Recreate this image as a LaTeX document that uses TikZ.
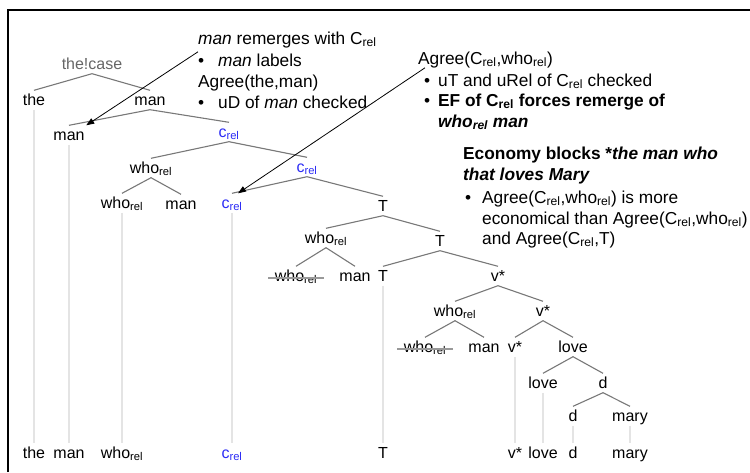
\documentclass[tikz,border=0pt]{standalone}
\usepackage{fontspec}
\setmainfont{Liberation Sans}
\usetikzlibrary{arrows.meta}
\definecolor{relblue}{RGB}{45,45,245}
\definecolor{branchgray}{RGB}{120,120,120}
\definecolor{copygray}{RGB}{228,228,228}
\newcommand{\relsub}{\textsubscript{rel}}
\newcommand{\treesize}{\fontsize{16}{19}\selectfont}
\newcommand{\notesize}{\fontsize{17.3}{20}\selectfont}

\begin{document}
\begin{tikzpicture}[x=1pt,y=-1pt,
        word/.style={inner sep=1.5pt, text height=13pt, text depth=3pt, font=\treesize},
        relword/.style={word, text=relblue},
        caseword/.style={word, text=black!60},
        note/.style={anchor=base west, inner sep=0pt, font=\notesize},
        branch/.style={draw=branchgray, line width=1.1pt},
        copyline/.style={draw=copygray, line width=2pt},
        strikeline/.style={draw=gray!80, line width=1.1pt},
        pointer/.style={->, >={Triangle[length=8pt,width=6pt]}, line width=0.8pt}]
        \useasboundingbox (0,0) rectangle (750,472);
        \draw[line width=1.2pt] (8,472) -- (8,10) -- (750,10);

        % tree
        \node[caseword] (thecase) at (92,64) {the!case};
        \node[word] (the) at (34,100) {the};
        \node[word] (man1) at (150,100) {man};
        \node[word] (man2) at (69,135) {man};
        \node[relword] (crel1) at (229,132) {c\relsub};
        \node[word] (who1) at (151,168) {who\relsub};
        \node[relword] (crel2) at (307,167) {c\relsub};
        \node[word] (who2) at (122,203) {who\relsub};
        \node[word] (man3) at (181,204) {man};
        \node[relword] (crel3) at (232,203) {c\relsub};
        \node[word] (T1) at (383,206) {T};
        \node[word] (who3) at (326,238) {who\relsub};
        \node[word] (T2) at (440,241) {T};
        \node[word] (who4) at (296,276) {who\relsub};
        \node[word] (man4) at (355,276) {man};
        \node[word] (T3) at (383,276) {T};
        \node[word] (v1) at (498,276) {v*};
        \node[word] (who5) at (455,311) {who\relsub};
        \node[word] (v2) at (543,311) {v*};
        \node[word] (who6) at (425,347) {who\relsub};
        \node[word] (man5) at (484,347) {man};
        \node[word] (v3) at (515,347) {v*};
        \node[word] (love1) at (573,347) {love};
        \node[word] (love2) at (543,383) {love};
        \node[word] (d1) at (603,383) {d};
        \node[word] (d2) at (573,416) {d};
        \node[word] (mary) at (630,416) {mary};

        \node[word] (bthe) at (34,453) {the};
        \node[word] (bman) at (69,453) {man};
        \node[word] (bwho) at (122,453) {who\relsub};
        \node[relword] (bcrel) at (232,453) {c\relsub};
        \node[word] (bT) at (383,453) {T};
        \node[word] (bv) at (515,453) {v*};
        \node[word] (blove) at (543,453) {love};
        \node[word] (bd) at (573,453) {d};
        \node[word] (bmary) at (630,453) {mary};

        \draw[branch] (the.north) -- (thecase.south) -- (man1.north);
        \draw[branch] (man2.north) -- (man1.south) -- (crel1.north);
        \draw[branch] (who1.north) -- (crel1.south) -- (crel2.north);
        \draw[branch] (who2.north) -- (who1.south) -- (man3.north);
        \draw[branch] (crel3.north) -- (crel2.south) -- (T1.north);
        \draw[branch] (who3.north) -- (T1.south) -- (T2.north);
        \draw[branch] (who4.north) -- (who3.south) -- (man4.north);
        \draw[branch] (T3.north) -- (T2.south) -- (v1.north);
        \draw[branch] (who5.north) -- (v1.south) -- (v2.north);
        \draw[branch] (who6.north) -- (who5.south) -- (man5.north);
        \draw[branch] (v3.north) -- (v2.south) -- (love1.north);
        \draw[branch] (love2.north) -- (love1.south) -- (d1.north);
        \draw[branch] (d2.north) -- (d1.south) -- (mary.north);

        \draw[copyline] (the) -- (bthe);
        \draw[copyline] (man2) -- (bman);
        \draw[copyline] (who2) -- (bwho);
        \draw[copyline] (crel3) -- (bcrel);
        \draw[copyline] (T3) -- (bT);
        \draw[copyline] (v3) -- (bv);
        \draw[copyline] (love2) -- (blove);
        \draw[copyline] (d2) -- (bd);
        \draw[copyline] (mary) -- (bmary);

        \draw[strikeline] ([xshift=-5pt,yshift=-2pt]who4.west) -- ([xshift=5pt,yshift=-2pt]who4.east);
        \draw[strikeline] ([xshift=-5pt,yshift=-2pt]who6.west) -- ([xshift=5pt,yshift=-2pt]who6.east);

        % notes
        \node[note] (n1) at (198,44) {\textit{man} remerges with C\relsub};
        \node[note] (nb1) at (198,66) {\textbullet};
        \node[note] (n2) at (218,66) {\textit{man} labels};
        \node[note] (n3) at (198,87) {Agree(the,man)};
        \node[note] (nb2) at (198,108) {\textbullet};
        \node[note] (n4) at (218,108) {uD of \textit{man} checked};

        \node[note] (p1) at (418,64) {Agree(C\relsub,who\relsub)};
        \node[note] (pb1) at (424,86) {\textbullet};
        \node[note] (p2) at (438,86) {uT and uRel of C\relsub\ checked};
        \node[note] (pb2) at (424,106) {\textbullet};
        \node[note] (p3) at (438,106) {\textbf{EF of C\relsub\ forces remerge of}};
        \node[note] (p4) at (438,127) {\textbf{\textit{who\relsub\ man}}};

        \node[note] (q1) at (463,159) {\textbf{Economy blocks *\textit{the man who}}};
        \node[note] (q2) at (463,180) {\textbf{\textit{that loves Mary}}};
        \node[note] (qb1) at (465,203) {\textbullet};
        \node[note] (q3) at (482,203) {Agree(C\relsub,who\relsub) is more};
        \node[note] (q4) at (482,224) {economical than Agree(C\relsub,who\relsub)};
        \node[note] (q5) at (482,244) {and Agree(C\relsub,T)};

        \draw[pointer] ([yshift=-4pt]n1.south west) -- (man2.north east);
        \draw[pointer] ([xshift=7pt]p1.south west) -- ([xshift=6pt]crel3.north);
\end{tikzpicture}
\end{document}
